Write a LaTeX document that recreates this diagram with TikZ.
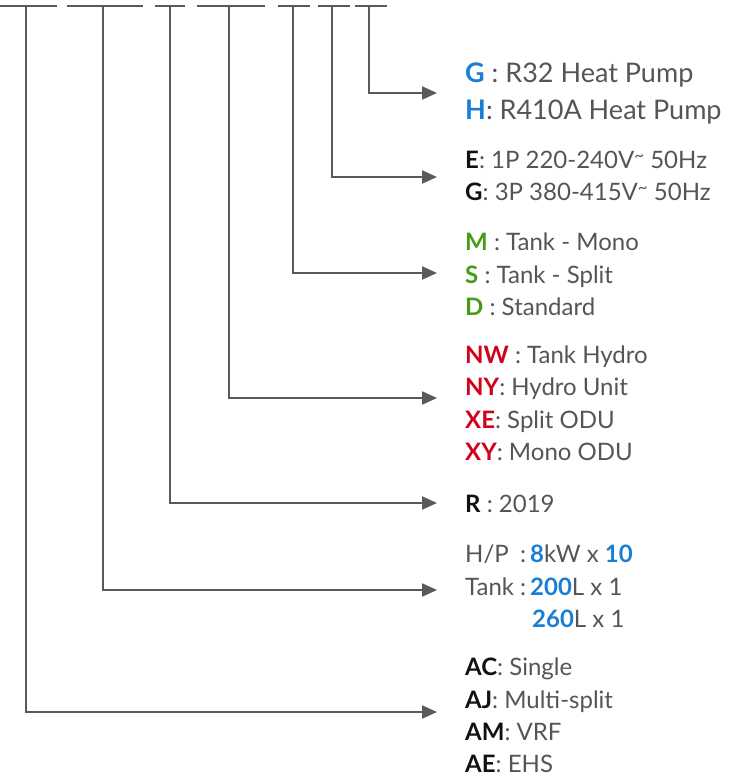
\documentclass[tikz,border=0pt]{standalone}
\usepackage{fontspec}
\setmainfont{Lato}
\usetikzlibrary{arrows.meta}
\definecolor{lgray}{HTML}{5A5A5A}
\definecolor{tgray}{HTML}{555555}
\definecolor{sblue}{HTML}{1A7FD4}
\definecolor{sgreen}{HTML}{4A9A1A}
\definecolor{sred}{HTML}{D0021B}
\definecolor{kbold}{HTML}{111111}
\newcommand\kbk[1]{\textcolor{kbold}{\bfseries #1}}
\newcommand\kbl[1]{\textcolor{sblue}{\bfseries #1}}
\newcommand\kgr[1]{\textcolor{sgreen}{\bfseries #1}}
\newcommand\krd[1]{\textcolor{sred}{\bfseries #1}}
\newcommand\vtil{\raisebox{0.28em}{\fontsize{17}{17}\selectfont\textasciitilde}}
\begin{document}
\begin{tikzpicture}[x=1pt,y=-1pt,
  conn/.style={draw=lgray, line width=2.2pt},
  arr/.style={conn, -{Triangle[length=15pt,width=13pt]}},
  txt/.style={anchor=base west, inner sep=0pt, text=tgray, font=\fontsize{24}{28}\selectfont},
  big/.style={txt, font=\fontsize{27}{32}\selectfont}]
\useasboundingbox (0,0) rectangle (743,778);
% top segments
\coordinate (s1a) at (0,6);   \coordinate (s1b) at (57,6);  \coordinate (v1) at (26,6);
\coordinate (s2a) at (67,6);  \coordinate (s2b) at (143,6); \coordinate (v2) at (103,6);
\coordinate (s3a) at (155,6); \coordinate (s3b) at (185,6); \coordinate (v3) at (170,6);
\coordinate (s4a) at (197,6); \coordinate (s4b) at (265,6); \coordinate (v4) at (229,6);
\coordinate (s5a) at (278,6); \coordinate (s5b) at (310,6); \coordinate (v5) at (293,6);
\coordinate (s6a) at (318,6); \coordinate (s6b) at (350,6); \coordinate (v6) at (332,6);
\coordinate (s7a) at (355,6); \coordinate (s7b) at (387,6); \coordinate (v7) at (369,6);
\foreach \i in {1,...,7} {\draw[conn] (s\i a) -- (s\i b);}
% arrow ends
\coordinate (e7) at (437,93);
\coordinate (e6) at (437,177);
\coordinate (e5) at (437,273);
\coordinate (e4) at (437,398);
\coordinate (e3) at (437,503);
\coordinate (e2) at (437,590);
\coordinate (e1) at (437,712);
\foreach \i in {1,...,7} {\draw[arr] (v\i) |- (e\i);}
% texts
\node[big] (g1a) at (465,83) {\kbl{G} : R32 Heat Pump};
\node[big] (g1b) at (465,120) {\kbl{H}: R410A Heat Pump};
\node[txt] (g2a) at (465,168) {\kbk{E}: 1P 220-240V\vtil{} 50Hz};
\node[txt] (g2b) at (465,200) {\kbk{G}: 3P 380-415V\vtil{} 50Hz};
\node[txt] (g3a) at (465,250) {\kgr{M} : Tank - Mono};
\node[txt] (g3b) at (465,283) {\kgr{S} : Tank - Split};
\node[txt] (g3c) at (465,315) {\kgr{D} : Standard};
\node[txt] (g4a) at (465,363) {\krd{NW} : Tank Hydro};
\node[txt] (g4b) at (465,395) {\krd{NY}: Hydro Unit};
\node[txt] (g4c) at (465,428) {\krd{XE}: Split ODU};
\node[txt] (g4d) at (465,460) {\krd{XY}: Mono ODU};
\node[txt] (g5a) at (465,512) {\kbk{R} : 2019};
\node[txt] (g6a) at (465,562) {\hbox to 55pt{H/P\hfil}:\,\kbl{8}kW x \kbl{10}};
\node[txt] (g6b) at (465,595) {\hbox to 55pt{Tank\hfil}:\,\kbl{200}L x 1};
\node[txt] (g6c) at (532,627) {\kbl{260}L x 1};
\node[txt] (g7a) at (465,675) {\kbk{AC}: Single};
\node[txt] (g7b) at (465,708) {\kbk{AJ}: Multi-split};
\node[txt] (g7c) at (465,740) {\kbk{AM}: VRF};
\node[txt] (g7d) at (465,772) {\kbk{AE}: EHS};
\end{tikzpicture}
\end{document}
